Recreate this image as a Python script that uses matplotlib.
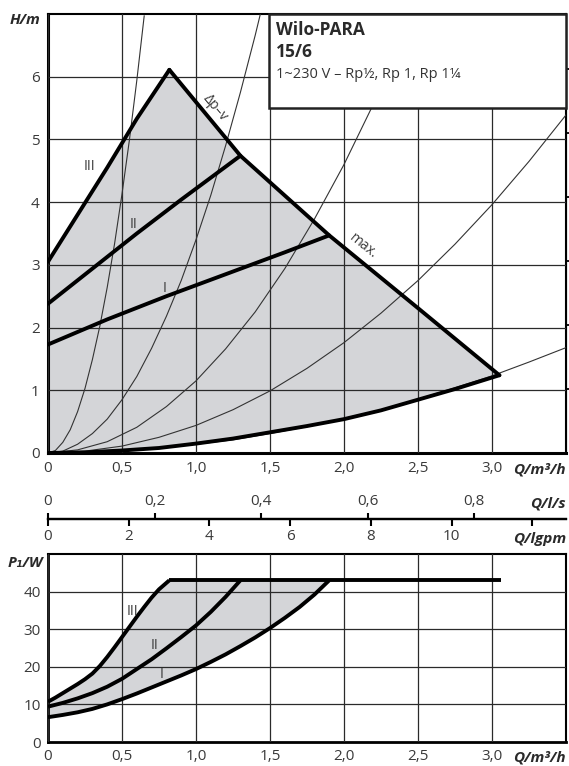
import matplotlib
matplotlib.use("Agg")
import matplotlib.pyplot as plt
from matplotlib.patches import Rectangle

plt.rcParams['font.family'] = ['Open Sans', 'DejaVu Sans']

# ---- data ----
q_ticks = [0, 0.5, 1.0, 1.5, 2.0, 2.5, 3.0]
q_labels = ['0', '0,5', '1,0', '1,5', '2,0', '2,5', '3,0']
h_ticks = [0, 1, 2, 3, 4, 5, 6]
kpa_ticks = [10, 20, 30, 40, 50, 60]
ls_ticks = [0, 0.2, 0.4, 0.6, 0.8]
ls_labels = ['0', '0,2', '0,4', '0,6', '0,8']
gpm_ticks = [0, 2, 4, 6, 8, 10, 12]
gpm_labels = ['0', '2', '4', '6', '8', '10', '']
p_ticks = [0, 10, 20, 30, 40]

# H(Q) speed stages, m3/h -> m
q_III = [0, 0.2, 0.4, 0.6, 0.82]
h_III = [3.05, 3.8, 4.55, 5.33, 6.11]
q_II = [0, 0.3, 0.6, 0.9, 1.3]
h_II = [2.38, 2.94, 3.5, 4.04, 4.74]
q_I = [0, 0.4, 0.8, 1.2, 1.6, 1.9]
h_I = [1.73, 2.13, 2.5, 2.85, 3.2, 3.47]
q_max = [0.82, 1.3, 1.9, 2.5, 3.05]
h_max = [6.11, 4.74, 3.47, 2.31, 1.24]
q_low = [0, 0.25, 0.5, 0.75, 1.0, 1.25, 1.5, 1.75, 2.0, 2.25, 2.5, 2.75, 3.05]
h_low = [0, 0.01, 0.04, 0.08, 0.15, 0.23, 0.33, 0.43, 0.54, 0.68, 0.85, 1.02, 1.24]

# thin system curves
sys_q = [
    [0, 0.05, 0.1, 0.15, 0.2, 0.25, 0.3, 0.35, 0.4, 0.45, 0.5, 0.55, 0.6, 0.65],
    [0, 0.1, 0.2, 0.3, 0.4, 0.5, 0.6, 0.7, 0.8, 0.9, 1.0, 1.1, 1.2, 1.3, 1.4, 1.44],
    [0, 0.2, 0.4, 0.6, 0.8, 1.0, 1.2, 1.4, 1.6, 1.8, 2.0, 2.2, 2.4, 2.47],
    [0, 0.25, 0.5, 0.75, 1.0, 1.25, 1.5, 1.75, 2.0, 2.25, 2.5, 2.75, 3.0, 3.25, 3.5],
    [0, 0.25, 0.5, 0.75, 1.0, 1.25, 1.5, 1.75, 2.0, 2.25, 2.5, 2.75, 3.0, 3.25, 3.5],
]
sys_h = [
    [0, 0.04, 0.17, 0.37, 0.66, 1.03, 1.49, 2.02, 2.64, 3.34, 4.13, 4.99, 5.94, 6.97],
    [0, 0.03, 0.14, 0.31, 0.54, 0.85, 1.22, 1.67, 2.18, 2.75, 3.4, 4.11, 4.9, 5.75, 6.66, 7.05],
    [0, 0.05, 0.18, 0.41, 0.74, 1.15, 1.66, 2.25, 2.94, 3.73, 4.6, 5.57, 6.62, 7.02],
    [0, 0.03, 0.11, 0.25, 0.44, 0.69, 0.99, 1.35, 1.76, 2.23, 2.75, 3.33, 3.96, 4.65, 5.39],
    [0, 0.01, 0.03, 0.08, 0.14, 0.21, 0.31, 0.42, 0.55, 0.69, 0.86, 1.04, 1.23, 1.45, 1.68],
]

# P1(Q) power curves, m3/h -> W
pq_III = [0, 0.05, 0.1, 0.15, 0.2, 0.25, 0.3, 0.35, 0.4, 0.45, 0.5, 0.55, 0.6,
          0.65, 0.7, 0.75, 0.82]
p_III = [10.7, 11.8, 13.0, 14.2, 15.4, 16.7, 18.2, 20.2, 22.6, 25.2, 27.9, 30.6,
         33.3, 35.9, 38.4, 40.6, 43]
pq_II = [0, 0.1, 0.2, 0.3, 0.4, 0.5, 0.6, 0.7, 0.8, 0.9, 1.0, 1.1, 1.2, 1.3]
p_II = [9.4, 10.4, 11.6, 13.0, 14.7, 16.8, 19.4, 22.0, 24.9, 27.9, 31.0, 34.6,
        38.6, 43]
pq_I = [0, 0.1, 0.2, 0.3, 0.4, 0.5, 0.6, 0.7, 0.8, 0.9, 1.0, 1.1, 1.2, 1.3, 1.4,
        1.5, 1.6, 1.7, 1.8, 1.9]
p_I = [6.6, 7.2, 7.9, 8.8, 10.0, 11.4, 12.9, 14.5, 16.1, 17.7, 19.4, 21.3, 23.3,
       25.5, 27.8, 30.3, 33.0, 35.9, 39.2, 43]
pq_max = [0.82, 3.06]
p_max = [43, 43]

GRAY = '#d4d5d8'
GRID = '#2a2a2a'
TXT = '#3a3a3a'

fig = plt.figure(figsize=(5.69, 7.66), dpi=100)
W, H = 569, 766


def box(l, t, r, b):
    return [l / W, 1 - b / H, (r - l) / W, (b - t) / H]


# ---- top: H/m ----
ax = fig.add_axes(box(48, 14, 566, 453))
ax.set_xlim(0, 3.5)
ax.set_ylim(0, 7)
fq = [0] + q_III + q_max[1:] + q_low[::-1]
fh = [0] + h_III + h_max[1:] + h_low[::-1]
ax.fill(fq, fh, color=GRAY, lw=0, zorder=1)
for qs, hs in zip(sys_q, sys_h):
    ax.plot(qs, hs, color='#333333', lw=0.8, zorder=3)
for qs, hs in [(q_III, h_III), (q_II, h_II), (q_I, h_I), (q_max, h_max), (q_low, h_low)]:
    ax.plot(qs, hs, color='black', lw=2.8, zorder=4, solid_capstyle='round',
            solid_joinstyle='miter')
ax.set_xticks(q_ticks)
ax.set_xticklabels(q_labels)
ax.set_yticks(h_ticks)
ax.grid(True, color=GRID, lw=0.9)
ax.set_axisbelow(False)
ax.tick_params(length=0, labelsize=11, colors=TXT, pad=6)
for s in ax.spines.values():
    s.set_linewidth(1.5)
ax.spines['left'].set_linewidth(2.2)
ax.spines['bottom'].set_linewidth(2.2)

sec = ax.secondary_yaxis('right', functions=(lambda h: h * 9.81, lambda p: p / 9.81))
sec.set_yticks(kpa_ticks)
sec.set_yticklabels([])
sec.tick_params(length=4, width=1.3, direction='out')

ax.add_patch(Rectangle((1.49, 5.5), 2.01, 1.5, facecolor='white', edgecolor='#222222',
                       lw=1.8, zorder=5, clip_on=False))
ax.text(1.54, 6.74, 'Wilo-PARA', fontsize=12.5, fontweight='bold', color='#2a2a2a',
        va='center', zorder=6)
ax.text(1.54, 6.39, '15/6', fontsize=12.5, fontweight='bold', color='#2a2a2a',
        va='center', zorder=6)
ax.text(1.54, 6.03, '1~230 V – Rp½, Rp 1, Rp 1¼', fontsize=10.5, color='#333333',
        va='center', zorder=6)

ax.text(0.28, 4.57, 'III', fontsize=10, color=TXT, ha='center', va='center', zorder=6)
ax.text(0.58, 3.65, 'II', fontsize=10, color=TXT, ha='center', va='center', zorder=6)
ax.text(0.79, 2.62, 'I', fontsize=10, color=TXT, ha='center', va='center', zorder=6)
ax.text(1.13, 5.5, 'Δp–v', fontsize=10, color=TXT, rotation=-50, ha='center',
        va='center', zorder=6)
ax.text(2.13, 3.3, 'max.', fontsize=10, color=TXT, rotation=-39, ha='center',
        va='center', zorder=6)

# ---- middle: l/s and lgpm scales ----
line_y = 519
ax_ls = fig.add_axes(box(48, line_y, 566, line_y + 10))
ax_ls.set_xlim(0, 3.5 / 3.6)
ax_ls.set_xticks(ls_ticks)
ax_ls.set_xticklabels(ls_labels)
ax_ls.xaxis.set_ticks_position('top')
ax_ls.set_yticks([])
ax_ls.patch.set_visible(False)
for k in ['left', 'right', 'bottom']:
    ax_ls.spines[k].set_visible(False)
ax_ls.spines['top'].set_linewidth(1.6)
ax_ls.tick_params(length=4, width=1.5, labelsize=11, colors=TXT, pad=3)
ax_ls.tick_params(color='black')

ax_g = fig.add_axes(box(48, line_y - 10, 566, line_y))
ax_g.set_xlim(0, 3.5 / 0.2728)
ax_g.set_xticks(gpm_ticks)
ax_g.set_xticklabels(gpm_labels)
ax_g.set_yticks([])
ax_g.patch.set_visible(False)
for k in ['left', 'right', 'top']:
    ax_g.spines[k].set_visible(False)
ax_g.spines['bottom'].set_linewidth(1.6)
ax_g.tick_params(length=5, width=1.5, labelsize=11, colors=TXT, pad=2)
ax_g.tick_params(color='black')

# ---- bottom: P1/W ----
bx = fig.add_axes(box(48, 554, 566, 742))
bx.set_xlim(0, 3.5)
bx.set_ylim(0, 50)
bq = pq_III + pq_I[::-1]
bp = p_III + p_I[::-1]
bx.fill(bq, bp, color=GRAY, lw=0, zorder=1)
for qs, ps in [(pq_III, p_III), (pq_II, p_II), (pq_I, p_I), (pq_max, p_max)]:
    bx.plot(qs, ps, color='black', lw=2.8, zorder=4, solid_capstyle='butt')
bx.set_xticks(q_ticks)
bx.set_xticklabels(q_labels)
bx.set_yticks(p_ticks)
bx.grid(True, color=GRID, lw=0.9)
bx.set_axisbelow(False)
bx.tick_params(length=0, labelsize=11, colors=TXT, pad=5)
for s in bx.spines.values():
    s.set_linewidth(1.5)
bx.spines['left'].set_linewidth(2.0)
bx.spines['bottom'].set_linewidth(2.0)
bx.text(0.57, 34.6, 'III', fontsize=10, color=TXT, ha='center', va='center', zorder=6)
bx.text(0.72, 25.7, 'II', fontsize=10, color=TXT, ha='center', va='center', zorder=6)
bx.text(0.77, 17.9, 'I', fontsize=10, color=TXT, ha='center', va='center', zorder=6)

# ---- unit labels ----
unit = dict(fontsize=11, fontweight='bold', style='italic', color='#2a2a2a')
fig.text(25 / W, 1 - 20 / H, 'H/m', ha='center', va='center', **unit)
fig.text(25 / W, 1 - 563 / H, 'P₁/W', ha='center', va='center', **unit)
fig.text(566 / W, 1 - 469 / H, 'Q/m³/h', ha='right', va='center', **unit)
fig.text(566 / W, 1 - 503 / H, 'Q/l/s', ha='right', va='center', **unit)
fig.text(566 / W, 1 - 539 / H, 'Q/lgpm', ha='right', va='center', **unit)
fig.text(566 / W, 1 - 757 / H, 'Q/m³/h', ha='right', va='center', **unit)

fig.savefig('out.png', dpi=100, facecolor='white')
